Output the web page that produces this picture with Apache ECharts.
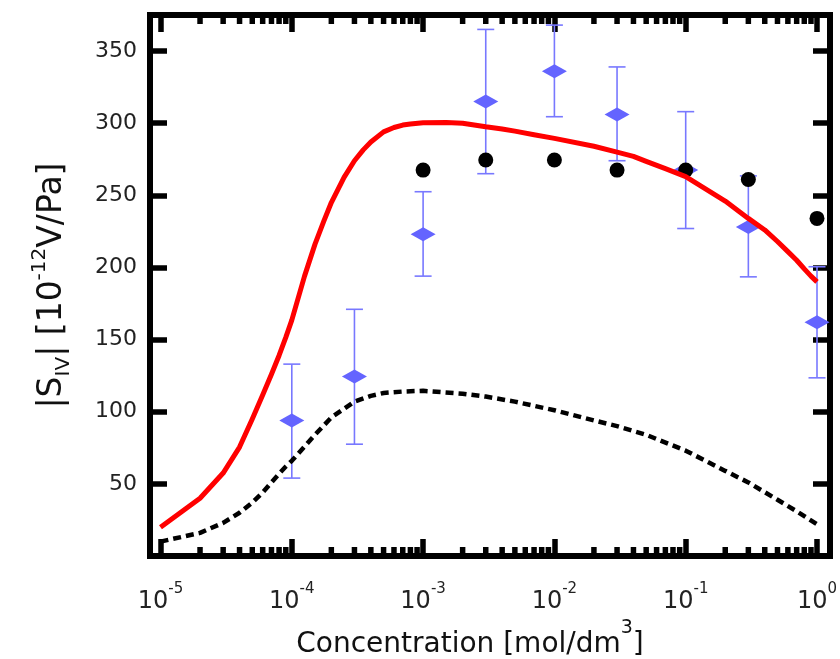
<!DOCTYPE html>
<html><head><meta charset="utf-8">
<script src="https://cdn.jsdelivr.net/npm/echarts@6/dist/echarts.min.js"></script>
<style>html,body{margin:0;padding:0;background:#fff}#c{width:840px;height:659px}</style>
</head><body><div id="c"></div>
<script>
// ---- data ----
const solidConc = [1e-5,2e-5,3e-5,4e-5,5e-5,6e-5,7e-5,8e-5,9e-5,1e-4,1.25e-4,1.5e-4,1.75e-4,2e-4,2.5e-4,3e-4,3.5e-4,4e-4,5e-4,6e-4,7e-4,8e-4,1e-3,1.5e-3,2e-3,3e-3,4e-3,5e-3,7e-3,1e-2,2e-2,3e-2,4e-2,5e-2,7e-2,1e-1,2e-1,3e-1,4e-1,5e-1,6e-1,7e-1,8e-1,9e-1,1];
const solidVals = [20,40,57.5,75.5,95,111.6,126,139,151.5,163.5,194,216,232,245,262.5,274,281.5,287,294,297,298.7,299.5,300.3,300.5,300,297.5,296,294.5,292,289.5,284,280,277,273.5,268.5,263,246,234,226,218,211,205,199,194,190];
const dashConc = [1e-5,2e-5,3e-5,4e-5,5e-5,6e-5,7e-5,8e-5,9e-5,1e-4,1.5e-4,2e-4,3e-4,4e-4,5e-4,7e-4,1e-3,2e-3,3e-3,5e-3,1e-2,2e-2,3e-2,5e-2,1e-1,2e-1,3e-1,5e-1,7e-1,1];
const dashVals = [10,16,23,30,37,44,51,57,62,66,84,96,107,111,113,114,114.5,112.5,110.5,107,101,94,90,84,73,59,51,39,31,22];
const circleConc = [1e-3,3e-3,1e-2,3e-2,1e-1,3e-1,1];
const circleVals = [267.5,274.5,274.5,267.5,267.5,261,234];
const diamondConc = [1e-4,3e-4,1e-3,3e-3,1e-2,3e-2,1e-1,3e-1,1];
const diamondVals = [94,124.5,223,315,336,306,267.5,228,162];
const errLow = [54,77.5,194,265,304.5,274,227,193.5,123.5];
const errHigh = [133,171,252.5,365,368,339,308,263.5,200.5];
const minorTickVals = [2e-5,3e-5,4e-5,5e-5,6e-5,7e-5,8e-5,9e-5,2e-4,3e-4,4e-4,5e-4,6e-4,7e-4,8e-4,9e-4,2e-3,3e-3,4e-3,5e-3,6e-3,7e-3,8e-3,9e-3,2e-2,3e-2,4e-2,5e-2,6e-2,7e-2,8e-2,9e-2,2e-1,3e-1,4e-1,5e-1,6e-1,7e-1,8e-1,9e-1];
const yTickInterval = 50;
const Y_MIN = 0, Y_MAX = 375;
const X_MIN = Math.pow(10, -5.08), X_MAX = Math.pow(10, 0.099);

// ---- chart ----
const FONT = 'DejaVu Sans';
const chart = echarts.init(document.getElementById('c'), null, {renderer: 'canvas'});
const zip = (a, b) => a.map((v, i) => [v, b[i]]);
const tickStyle = {color: '#000', width: 5.5};

function expLabel(v) {
  const e = Math.log10(v);
  const r = Math.round(e);
  if (Math.abs(e - r) > 0.01) return '';
  return '{b|10}{e|' + r + '}';
}

const option = {
  backgroundColor: '#fff',
  animation: false,
  grid: {left: 150, right: 10, top: 15, bottom: 103, containLabel: false, outerBoundsMode: 'none',
         show: true, borderColor: '#000', borderWidth: 6, backgroundColor: 'transparent'},
  xAxis: [
    {
      type: 'log', logBase: 10, min: X_MIN, max: X_MAX, position: 'bottom',
      axisLine: {show: false, onZero: false},
      axisTick: {show: true, inside: true, length: 17, lineStyle: tickStyle},
      splitLine: {show: false},
      axisLabel: {
        formatter: expLabel, margin: 26, color: '#222',
        rich: {
          b: {fontSize: 24, fontFamily: FONT, color: '#222', lineHeight: 32, verticalAlign: 'bottom'},
          e: {fontSize: 15, fontFamily: FONT, color: '#222', lineHeight: 15, verticalAlign: 'top'}
        }
      },
      name: '{a|Concentration [mol/dm}{s|3}{a|]}',
      nameLocation: 'middle', nameGap: 57,
      nameTextStyle: {
        padding: [0, 40, 0, 0],
        rich: {
          a: {fontSize: 28, fontFamily: FONT, color: '#111', lineHeight: 40, verticalAlign: 'bottom'},
          s: {fontSize: 19, fontFamily: FONT, color: '#111', lineHeight: 19, verticalAlign: 'top'}
        }
      }
    },
    {
      type: 'log', logBase: 10, min: X_MIN, max: X_MAX, position: 'top',
      axisLine: {show: false, onZero: false},
      axisTick: {show: true, inside: true, length: 17, lineStyle: tickStyle},
      splitLine: {show: false},
      axisLabel: {show: false}
    }
  ],
  yAxis: [
    {
      type: 'value', min: Y_MIN, max: Y_MAX, interval: yTickInterval, position: 'left',
      axisLine: {show: false, onZero: false},
      axisTick: {show: true, inside: true, length: 17, lineStyle: tickStyle},
      splitLine: {show: false},
      axisLabel: {
        margin: 13, fontSize: 22, fontFamily: FONT, color: '#222',
        formatter: v => (v > Y_MIN && v < Y_MAX) ? String(v) : ''
      },
      name: '{a||S}{u|IV}{a|| [10}{p|-12}{a|V/Pa]}',
      nameLocation: 'middle', nameGap: 76, nameRotate: 90,
      nameTextStyle: {
        rich: {
          a: {fontSize: 33, fontFamily: FONT, color: '#111', lineHeight: 44, verticalAlign: 'middle'},
          u: {fontSize: 20, fontFamily: FONT, color: '#111', lineHeight: 20, verticalAlign: 'bottom'},
          p: {fontSize: 20, fontFamily: FONT, color: '#111', lineHeight: 20, verticalAlign: 'top'}
        }
      }
    },
    {
      type: 'value', min: Y_MIN, max: Y_MAX, interval: yTickInterval, position: 'right',
      axisLine: {show: false, onZero: false},
      axisTick: {show: true, inside: true, length: 17, lineStyle: tickStyle},
      splitLine: {show: false},
      axisLabel: {show: false}
    }
  ],
  series: [
    {
      type: 'custom', name: 'minor ticks', xAxisIndex: 0, yAxisIndex: 0, z: 5,
      data: minorTickVals.map(v => [v, Y_MIN]),
      encode: {x: 0, y: 1},
      renderItem: function (params, api) {
        const v = api.value(0);
        const pb = api.coord([v, Y_MIN]);
        const pt = api.coord([v, Y_MAX]);
        const st = {stroke: '#000', lineWidth: 5.5};
        return {type: 'group', children: [
          {type: 'line', shape: {x1: pb[0], y1: pb[1], x2: pb[0], y2: pb[1] - 9}, style: st},
          {type: 'line', shape: {x1: pt[0], y1: pt[1], x2: pt[0], y2: pt[1] + 9}, style: st}
        ]};
      },
      silent: true
    },
    {
      type: 'custom', name: 'error bars', xAxisIndex: 0, yAxisIndex: 0, z: 2,
      data: diamondConc.map((c, i) => [c, errLow[i], errHigh[i]]),
      encode: {x: 0, y: [1, 2]},
      renderItem: function (params, api) {
        const x = api.value(0);
        const pl = api.coord([x, api.value(1)]);
        const ph = api.coord([x, api.value(2)]);
        const hw = 8.5;
        const st = {stroke: '#7878ff', lineWidth: 1.6};
        return {type: 'group', children: [
          {type: 'line', shape: {x1: pl[0], y1: pl[1], x2: ph[0], y2: ph[1]}, style: st},
          {type: 'line', shape: {x1: pl[0] - hw, y1: pl[1], x2: pl[0] + hw, y2: pl[1]}, style: st},
          {type: 'line', shape: {x1: ph[0] - hw, y1: ph[1], x2: ph[0] + hw, y2: ph[1]}, style: st}
        ]};
      }
    },
    {
      type: 'scatter', name: 'diamonds', z: 3,
      data: zip(diamondConc, diamondVals),
      symbol: 'diamond', symbolSize: [25, 14],
      itemStyle: {color: '#6464ff', opacity: 1}
    },
    {
      type: 'scatter', name: 'circles', z: 4,
      data: zip(circleConc, circleVals),
      symbol: 'circle', symbolSize: 15,
      itemStyle: {color: '#000', opacity: 1}
    },
    {
      type: 'line', name: 'model', z: 6,
      data: zip(solidConc, solidVals),
      showSymbol: false, symbol: 'none', smooth: false,
      lineStyle: {color: '#ff0000', width: 5, join: 'round'}
    },
    {
      type: 'line', name: 'model dashed', z: 6,
      data: zip(dashConc, dashVals),
      showSymbol: false, symbol: 'none', smooth: false,
      lineStyle: {color: '#000', width: 4.5, type: [8, 5]}
    }
  ]
};
chart.setOption(option);
</script>
</body></html>
